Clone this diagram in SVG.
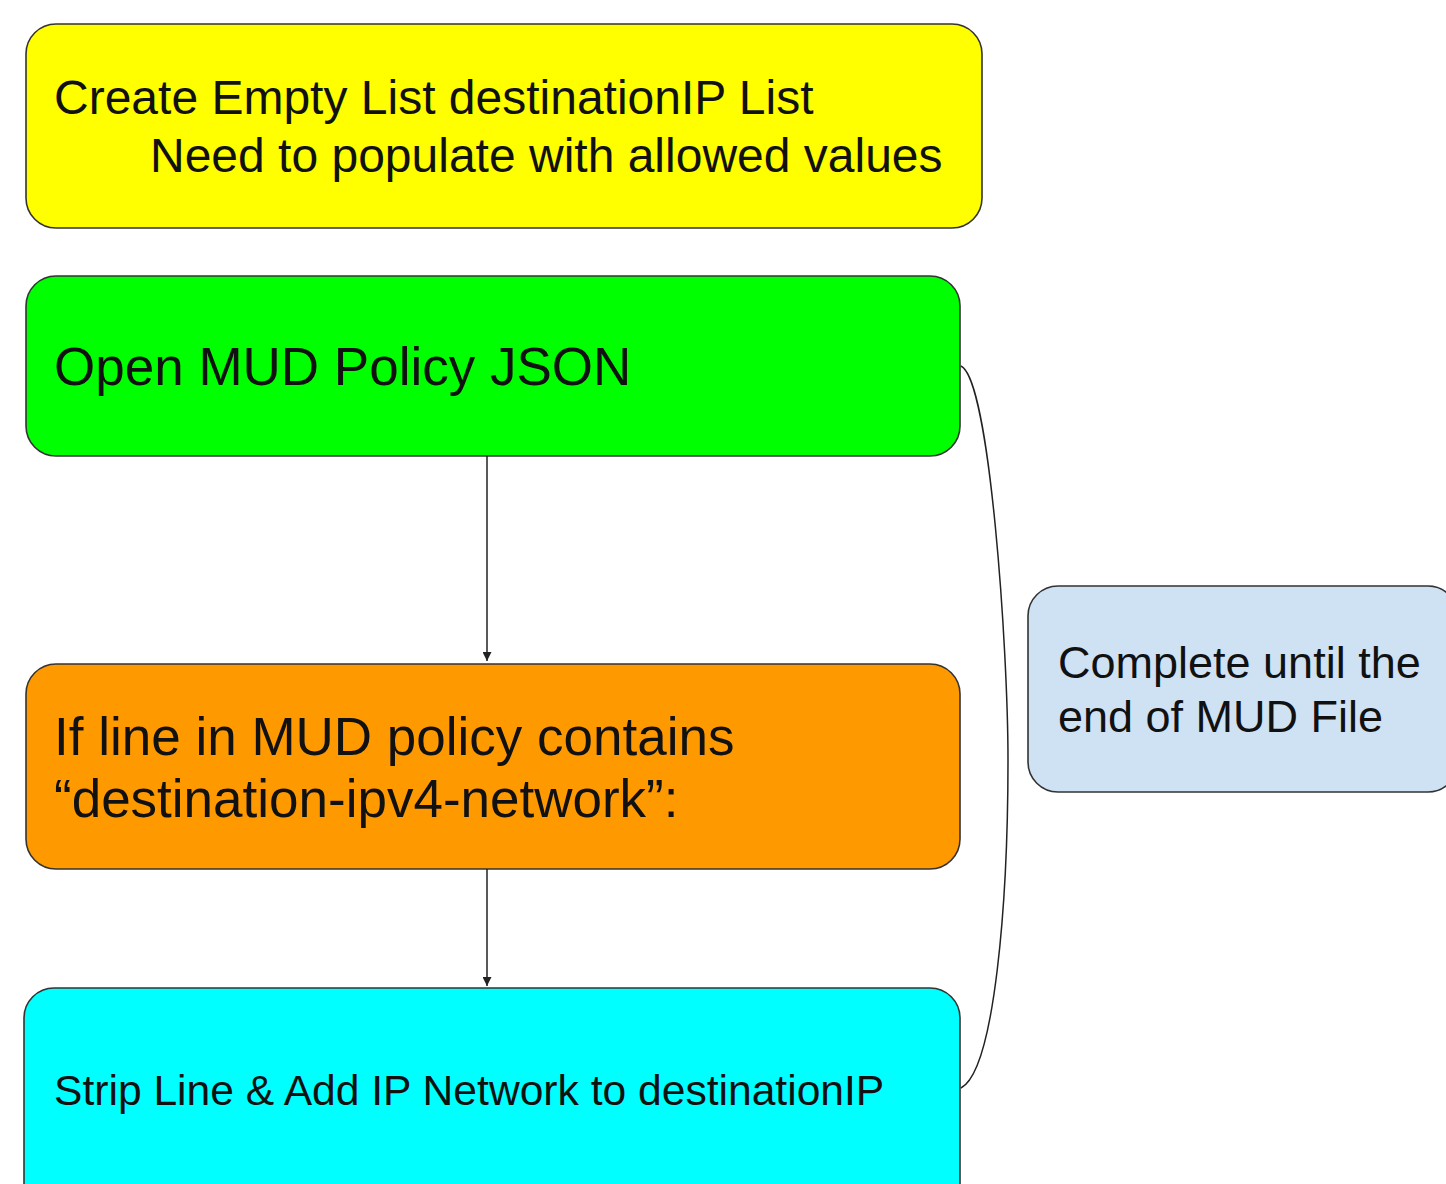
<svg xmlns="http://www.w3.org/2000/svg" width="1446" height="1184" viewBox="0 0 1446 1184">
<style>
.box{stroke:#333;stroke-width:1.6}
.t{font-family:"Liberation Sans",Arial,sans-serif;fill:#111}
.conn{fill:none;stroke:#222;stroke-width:1.5}
</style>
<defs>
<marker id="ah" viewBox="0 0 10 10" refX="10" refY="5" markerWidth="9" markerHeight="9" markerUnits="userSpaceOnUse" orient="auto">
<path d="M0,0 L10,5 L0,10 Z" fill="#222"/>
</marker>
</defs>
<rect width="1446" height="1184" fill="#fff"/>
<g id="n1">
<rect class="box" x="26" y="24" width="956" height="204" rx="30" fill="#ffff00"/>
<text class="t" x="54" y="114" font-size="48">Create Empty List destinationIP List</text>
<text class="t" x="150" y="172" font-size="48">Need to populate with allowed values</text>
</g>
<g id="n2">
<rect class="box" x="26" y="276" width="934" height="180" rx="30" fill="#00ff00"/>
<text class="t" x="54" y="385" font-size="53">Open MUD Policy JSON</text>
</g>
<g id="n3">
<rect class="box" x="26" y="664" width="934" height="205" rx="30" fill="#ff9900"/>
<text class="t" x="54" y="755" font-size="53">If line in MUD policy contains</text>
<text class="t" x="54" y="817" font-size="53">“destination-ipv4-network”:</text>
</g>
<g id="n4">
<rect class="box" x="24" y="988" width="936" height="230" rx="30" fill="#00ffff"/>
<text class="t" x="54" y="1105" font-size="42.6">Strip Line &amp; Add IP Network to destinationIP</text>
</g>
<g id="n5">
<rect class="box" x="1028" y="586" width="430" height="206" rx="30" fill="#cfe2f3"/>
<text class="t" x="1058" y="678" font-size="45">Complete until the</text>
<text class="t" x="1058" y="732" font-size="45">end of MUD File</text>
</g>
<g id="connectors">
<line class="conn" x1="487" y1="456" x2="487" y2="661" marker-end="url(#ah)"/>
<line class="conn" x1="487" y1="869" x2="487" y2="986" marker-end="url(#ah)"/>
<path class="conn" d="M961,366 C990,380 1008,650 1008,760 C1008,900 995,1070 961,1088"/>
</g>
</svg>
